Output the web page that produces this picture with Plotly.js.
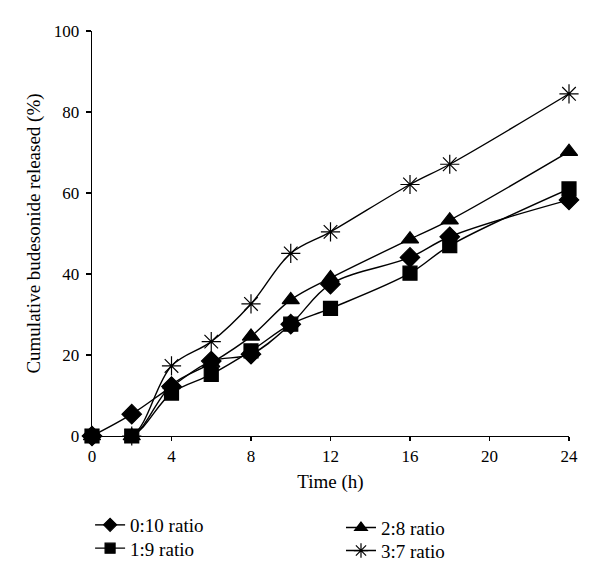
<!DOCTYPE html>
<html>
<head>
<meta charset="utf-8">
<script src="https://cdn.plot.ly/plotly-3.0.1.min.js"></script>
<style>html,body{margin:0;padding:0;background:#fff;}#chart{width:600px;height:584px;}</style>
</head>
<body>
<div id="chart"></div>
<script>
const time = [0, 2, 4, 6, 8, 10, 12, 16, 18, 24];
const ratio0_10 = [0, 5.4, 12.2, 18.5, 20.2, 27.6, 37.5, 44.1, 49.2, 58.3];
const ratio1_9  = [0, 0, 10.6, 15.2, 21.0, 27.6, 31.5, 40.2, 47.0, 61.0];
const ratio2_8  = [0, 0, 12.6, 18.0, 24.6, 33.6, 39.0, 48.6, 53.3, 70.2];
const ratio3_7  = [0, 0, 17.3, 23.3, 32.6, 45.1, 50.4, 62.1, 67.1, 84.5];
const seriesNames = ['0:10 ratio', '1:9 ratio', '2:8 ratio', '3:7 ratio'];
const xTicks = [0, 4, 8, 12, 16, 20, 24];
const yTicks = [0, 20, 40, 60, 80, 100];

const FONT = 'Liberation Serif, Times New Roman, serif';
const symbols = ['diamond', 'square', 'triangle-up', 'asterisk-open'];
const plotSizes = [15, 14, 15, 16];
const legendSizes = [10, 10, 11, 12];
const legendIds = ['legend', 'legend2', 'legend3', 'legend4'];
const series = [ratio0_10, ratio1_9, ratio2_8, ratio3_7];

const data = [];
series.forEach((y, i) => {
  data.push({
    x: time, y: y, name: seriesNames[i], type: 'scatter', mode: 'lines+markers',
    line: {color: '#000', width: 1.4, shape: 'spline', smoothing: 1},
    marker: {symbol: symbols[i], size: plotSizes[i], color: '#000', line: {color: '#000', width: 1.2}},
    cliponaxis: false, showlegend: false
  });
});
// legend-only entries (no points drawn)
series.forEach((y, i) => {
  data.push({
    x: [null], y: [null], name: seriesNames[i], type: 'scatter', mode: 'lines+markers',
    line: {color: '#000', width: 1.4},
    marker: {symbol: symbols[i], size: legendSizes[i], color: '#000', line: {color: '#000', width: 1.2}},
    showlegend: true, legend: legendIds[i]
  });
});

function leg(x, y) {
  return {
    x: x, y: y, xanchor: 'left', yanchor: 'middle',
    font: {family: FONT, size: 19, color: '#000'},
    bgcolor: 'rgba(0,0,0,0)', borderwidth: 0, itemwidth: 30
  };
}
const layout = {
  width: 600, height: 584,
  margin: {l: 92, r: 31, t: 31, b: 148},
  paper_bgcolor: '#fff', plot_bgcolor: '#fff',
  font: {family: FONT, size: 17, color: '#000'},
  showlegend: true,
  xaxis: {
    range: [0, 24], tickvals: xTicks, ticktext: xTicks.map(String),
    showgrid: false, zeroline: false, showline: true, linecolor: '#000', linewidth: 1.4,
    ticks: 'outside', ticklen: 4, tickcolor: '#000', tickwidth: 1.2,
    tickfont: {family: FONT, size: 17},
    title: {text: 'Time (h)', font: {family: FONT, size: 19}, standoff: 10}
  },
  yaxis: {
    range: [0, 100], tickvals: yTicks, ticktext: yTicks.map(String),
    showgrid: false, zeroline: false, showline: true, linecolor: '#000', linewidth: 1.4,
    ticks: 'outside', ticklen: 5, tickcolor: '#000', tickwidth: 1.2, ticklabelstandoff: 3,
    tickfont: {family: FONT, size: 17},
    title: {text: 'Cumulative budesonide released (%)', font: {family: FONT, size: 19}, standoff: 8}
  },
  legend: leg(-0.004, -0.2198),
  legend2: leg(-0.004, -0.2773),
  legend3: leg(0.522, -0.2264),
  legend4: leg(0.522, -0.2832)
};
Plotly.newPlot('chart', data, layout, {displayModeBar: false, staticPlot: true});
</script>
</body>
</html>
